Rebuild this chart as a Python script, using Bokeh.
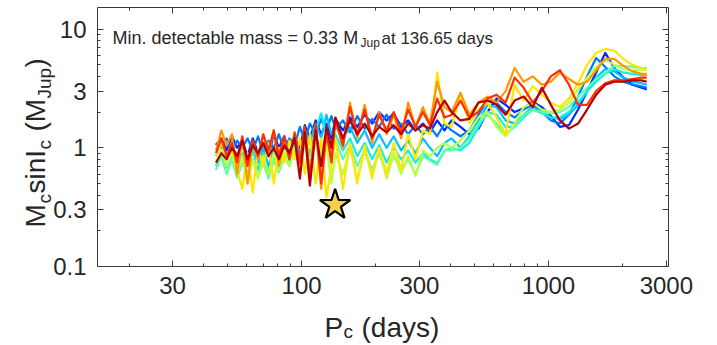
import math
from bokeh.plotting import figure
from bokeh.models import Range1d, FixedTicker, LogAxis, Label, CustomJSTickFormatter
from bokeh.embed import file_html
from bokeh.resources import INLINE

# ---------------- data ----------------
period_short = [45, 47.3, 49.7, 52.2, 54.8, 57.5, 60.4, 63.4, 66.6, 69.9, 73.4, 77.1,
                80.9, 85.0, 89.2, 93.7, 98.4, 103, 108, 114, 120, 126, 132]
period_mid = [137, 147, 157, 168, 180, 193, 206, 221, 236, 253, 270, 289, 310, 331, 354, 379]
period_long = [405, 440, 478, 520, 566, 616, 670, 729, 793, 863, 939, 1022, 1112, 1210,
               1317, 1433, 1559, 1697, 1846, 2009, 2186, 2380, 2500]
periods = period_short + period_mid + period_long

mass_blue = [1.05, 1.2, 0.95, 1.25, 1.0, 1.15, 0.85, 1.2, 0.9, 1.1, 0.85, 1.3, 1.0, 1.25, 0.9, 1.2, 1.0, 1.55, 1.2, 1.7, 1.3, 1.6, 1.2,
             1.75, 1.4, 1.8, 1.5, 1.9, 1.6, 2.0, 1.7, 1.95, 1.5, 1.7, 1.4, 1.6, 1.35, 1.7, 1.4,
             1.7, 1.5, 1.3, 1.45, 2.0, 2.6, 2.3, 2.0, 2.15, 2.45, 2.2, 1.85, 1.5, 1.55, 2.1, 3.0, 4.3, 6.3, 4.7, 3.9, 3.4, 3.2, 3.1]
mass_azure = [1.1, 1.0, 1.2, 0.9, 1.15, 1.0, 1.2, 0.95, 1.25, 0.9, 1.15, 1.0, 1.3, 0.95, 1.2, 1.05, 1.5, 1.15, 1.6, 1.3, 1.75, 1.4, 1.85,
              1.45, 1.7, 1.35, 1.85, 1.45, 1.75, 1.5, 1.9, 1.45, 1.6, 1.3, 1.55, 1.3, 1.5, 1.25, 1.6,
              1.4, 1.25, 1.4, 1.9, 2.5, 2.4, 2.0, 1.8, 2.1, 2.3, 2.0, 1.7, 1.6, 1.9, 2.7, 4.0, 5.7, 4.8, 4.0, 3.6, 3.4, 3.3, 3.2]
mass_sky = [0.85, 1.1, 0.8, 1.05, 0.85, 1.1, 0.8, 1.0, 0.75, 1.0, 0.7, 0.95, 0.8, 1.1, 0.85, 1.2, 0.9, 1.35, 1.1, 1.6, 1.2, 1.9, 1.3,
            1.55, 1.2, 1.5, 1.1, 1.4, 1.0, 1.3, 1.0, 1.25, 0.95, 1.15, 0.9, 1.2, 1.0, 0.85, 1.1,
            1.2, 1.0, 1.25, 1.7, 2.3, 2.2, 1.7, 1.6, 1.9, 2.2, 2.0, 1.8, 1.75, 1.9, 2.3, 3.0, 3.9, 4.6, 4.4, 3.9, 3.6, 3.5, 3.4]
mass_cyan = [0.7, 0.9, 0.68, 0.85, 0.62, 0.9, 0.7, 0.95, 0.65, 0.9, 0.62, 0.85, 0.7, 0.95, 0.75, 1.05, 0.8, 1.2, 0.9, 1.4, 1.95, 1.3, 1.1,
             1.3, 0.95, 1.2, 0.85, 1.1, 0.8, 1.05, 0.75, 1.0, 0.8, 0.95, 0.75, 0.9, 0.8, 0.74, 0.95,
             1.0, 0.95, 1.1, 1.5, 2.0, 1.9, 1.5, 1.5, 1.8, 2.1, 1.95, 1.8, 1.8, 2.0, 2.4, 3.0, 3.6, 4.2, 4.6, 4.3, 4.2, 4.1, 4.1]
mass_aqua = [0.65, 0.85, 0.6, 0.8, 0.56, 0.75, 0.62, 0.8, 0.58, 0.75, 0.55, 0.78, 0.62, 0.85, 0.7, 0.95, 0.75, 1.05, 0.85, 1.2, 0.9, 1.35, 1.0,
             1.15, 0.8, 1.05, 0.7, 0.95, 0.65, 0.9, 0.6, 0.85, 0.65, 0.8, 0.6, 0.85, 0.78, 0.72, 0.95,
             0.95, 1.0, 1.2, 1.6, 1.9, 1.6, 1.3, 1.5, 1.9, 2.1, 2.0, 1.95, 2.0, 2.2, 2.7, 3.2, 3.8, 4.3, 4.9, 4.9, 4.8, 4.7, 4.7]
mass_lime = [0.75, 0.95, 0.7, 0.9, 0.6, 0.85, 0.5, 0.8, 0.55, 0.85, 0.6, 0.9, 0.65, 0.95, 0.7, 1.0, 0.65, 1.1, 0.7, 1.2, 0.55, 1.1, 0.5,
             0.9, 0.6, 1.0, 0.55, 0.95, 0.6, 1.0, 0.55, 0.9, 0.6, 0.85, 0.58, 0.95, 0.85, 1.0, 1.1,
             1.0, 1.15, 1.4, 1.8, 2.0, 1.5, 1.25, 1.6, 2.2, 2.4, 2.1, 2.0, 2.1, 2.4, 3.1, 3.9, 4.8, 5.5, 5.0, 4.6, 4.5, 4.5, 4.5]
mass_yellow = [0.85, 1.1, 0.8, 1.0, 0.65, 0.45, 0.9, 0.42, 0.95, 0.7, 1.1, 0.5, 1.0, 0.75, 1.15, 0.8, 1.2, 0.6, 1.3, 0.5, 1.2, 0.38, 0.7,
               1.2, 0.45, 1.1, 0.5, 1.05, 0.55, 1.0, 0.6, 1.1, 0.65, 1.3, 0.8, 1.4, 1.3, 4.3, 1.6,
               1.5, 2.9, 1.6, 2.1, 2.4, 1.8, 1.3, 3.4, 2.5, 3.3, 2.8, 2.4, 2.2, 2.6, 3.5, 5.0, 6.3, 6.8, 6.6, 5.6, 5.0, 4.7, 4.6]
mass_orange = [0.95, 1.4, 1.05, 1.3, 0.6, 1.2, 0.5, 1.1, 0.8, 1.3, 0.9, 1.4, 0.7, 1.2, 0.85, 1.3, 0.7, 1.45, 0.6, 1.5, 0.45, 1.3, 0.8,
               1.8, 1.0, 2.4, 1.2, 2.3, 1.1, 2.0, 1.3, 1.9, 1.2, 2.4, 1.5, 2.2, 1.6, 3.6, 2.2,
               2.0, 2.9, 1.9, 2.4, 2.7, 2.4, 3.0, 4.7, 3.6, 4.0, 3.4, 3.6, 4.3, 3.8, 3.4, 3.6, 4.5, 5.6, 5.6, 4.9, 4.4, 4.2, 4.2]
mass_red = [0.9, 1.2, 0.85, 1.1, 0.75, 1.25, 0.7, 1.15, 0.85, 1.3, 0.95, 1.4, 0.85, 1.25, 0.8, 1.35, 0.75, 1.5, 0.55, 1.6, 0.5, 1.4, 0.75,
            1.7, 1.05, 2.2, 1.3, 2.1, 1.2, 1.9, 1.4, 2.0, 1.35, 2.1, 1.5, 2.0, 1.55, 2.6, 1.8,
            1.9, 2.5, 1.8, 2.0, 2.6, 2.8, 2.4, 3.9, 3.2, 2.4, 3.0, 4.0, 4.5, 3.4, 2.3, 2.3, 3.0, 3.5, 3.7, 3.7, 3.8, 3.9, 3.9]
mass_darkred = [0.75, 0.9, 0.8, 1.0, 0.85, 1.15, 0.8, 1.05, 0.9, 1.1, 0.85, 1.0, 0.8, 1.05, 0.9, 1.2, 0.55, 1.35, 0.48, 1.4, 0.7, 1.5, 1.0,
                1.8, 1.2, 1.7, 1.3, 1.6, 1.25, 1.5, 1.35, 1.55, 1.3, 1.6, 1.4, 1.55, 1.45, 2.0, 2.5,
                2.0, 1.7, 1.75, 2.4, 2.5, 2.3, 1.9, 2.5, 2.7, 2.2, 3.2, 2.3, 1.7, 1.45, 1.6, 2.1, 2.8, 3.4, 3.6, 3.6, 3.7, 3.7, 3.6]

series = [mass_blue, mass_azure, mass_sky, mass_cyan, mass_aqua, mass_lime,
          mass_yellow, mass_orange, mass_red, mass_darkred]
colors = ["#0028FF", "#0078FF", "#00C0FF", "#10F0E8", "#60FFA0", "#B8FF48",
          "#FFE600", "#FF9800", "#FF3000", "#B40000"]

star_period = [136.65]
star_mass = [0.33]

x_ticks = [30, 100, 300, 1000, 3000]
x_minor = [20, 40, 50, 60, 70, 80, 90, 200, 400, 500, 600, 700, 800, 900, 2000]
y_ticks = [0.1, 0.3, 1, 3, 10]
y_minor = [0.2, 0.4, 0.5, 0.6, 0.7, 0.8, 0.9, 2, 4, 5, 6, 7, 8, 9]

# axes box (data limits)
X_MIN, X_MAX = 14.9, 3060
Y_MIN, Y_MAX = 0.1, 15.2

FONT = "Liberation Sans"
TXT = "#262626"
AX = "#3a3a3a"

W, H = 715, 343

# ---------------- figure ----------------
# The frame fills the canvas; the axes are pinned to the box edges.
p = figure(width=W, height=H, x_axis_type="log", y_axis_type="log",
           x_range=Range1d(6.03, 4745), y_range=Range1d(0.02245, 17.41),
           output_backend="svg", toolbar_location=None,
           min_border_left=0, min_border_right=0, min_border_top=0, min_border_bottom=0)
p.grid.visible = False
p.outline_line_color = None
p.background_fill_color = "white"
p.border_fill_color = "white"

top_axis = LogAxis()
right_axis = LogAxis()
p.add_layout(top_axis, "above")
p.add_layout(right_axis, "right")
bottom_axis = p.below[0]
left_axis = p.left[0]


def style(ax, ticks, minor, labels, loc, bounds):
    ax.fixed_location = loc
    ax.bounds = bounds
    ax.ticker = FixedTicker(ticks=ticks, minor_ticks=minor)
    ax.major_tick_in = 6
    ax.major_tick_out = 0
    ax.minor_tick_in = 3
    ax.minor_tick_out = 0
    ax.axis_line_color = AX
    ax.major_tick_line_color = AX
    ax.minor_tick_line_color = AX
    ax.axis_line_width = 1
    if labels:
        ax.formatter = CustomJSTickFormatter(code="return tick.toString();")
        ax.major_label_text_font = FONT
        ax.major_label_text_font_size = "24px"
        ax.major_label_text_color = TXT
        ax.major_label_standoff = 11
    else:
        ax.major_label_text_color = None


style(bottom_axis, x_ticks, x_minor, True, Y_MIN, (X_MIN, X_MAX))
style(left_axis, y_ticks, y_minor, True, X_MIN, (Y_MIN, Y_MAX))
style(top_axis, x_ticks, x_minor, False, Y_MAX, (X_MIN, X_MAX))
style(right_axis, y_ticks, y_minor, False, X_MAX, (Y_MIN, Y_MAX))

for vals, c in zip(series, colors):
    p.line(periods, vals, line_color=c, line_width=2.2, line_join="round")

p.scatter(star_period, star_mass, marker="star", size=32, fill_color="#F5CF4E",
          line_color="black", line_width=2.2)


def lab(text, x, y, size, angle=0.0):
    # x, y: screen position measured from the left / bottom of the canvas
    p.add_layout(Label(x=x, y=y, x_units="screen", y_units="screen", text=text,
                       text_font=FONT, text_font_size=size, text_color=TXT,
                       text_align="left", text_baseline="alphabetic", angle=angle))


# annotation
lab("Min. detectable mass = 0.33 M", 112, H - 37.5, "18px")
lab("Jup", 360, H - 42, "12px")
lab("at 136.65 days", 381, H - 37.5, "17px")

# x-axis label
lab("P", 324, H - 327, "28px")
lab("c", 343, H - 331, "19px")
lab("(days)", 361, H - 327, "28px")

# y-axis label (rotated)
A = math.pi / 2
lab("M", 35, H - 227, "28px", A)
lab("c", 44, H - 203, "19px", A)
lab("sinI", 35, H - 193, "28px", A)
lab("c", 44, H - 149, "19px", A)
lab("(M", 35, H - 131, "28px", A)
lab("Jup", 44, H - 98, "19px", A)
lab(")", 35, H - 67, "28px", A)

open("out.html", "w").write(file_html(p, INLINE))
